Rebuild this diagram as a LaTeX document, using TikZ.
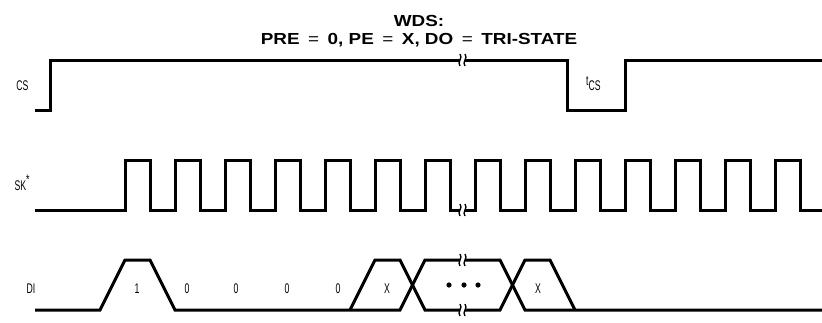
\documentclass[tikz,border=0pt]{standalone}
\usepackage{fontspec}
\usepackage{graphicx}
\newfontfamily\tfont{Liberation Sans}
\newcommand\lbl[1]{\scalebox{0.62}[1]{\fontsize{14}{14}\selectfont\tfont #1}}
\newcommand\ttl[1]{\scalebox{1.18}[1]{\fontsize{16}{18}\selectfont\tfont\bfseries #1}}
\newcommand\eqs{\hspace{0.45em}{\mdseries=}\hspace{0.45em}}
\newcommand\brkmark[2]{%
  \draw[brk] ({#1},{#2-6}) .. controls ({#1+3.5},{#2-2}) and ({#1-3.5},{#2+2}) .. ({#1},{#2+6});
  \draw[brk] ({#1+5},{#2-6}) .. controls ({#1+8.5},{#2-2}) and ({#1+1.5},{#2+2}) .. ({#1+5},{#2+6});}
\begin{document}
\begin{tikzpicture}[x=1pt,y=-1pt,
  sig/.style={line width=3pt,line join=miter},
  brk/.style={line width=1.3pt},
  lab/.style={anchor=base,inner sep=0pt}]
\useasboundingbox (0,0) rectangle (822,322);
% title
\node[lab] (t1) at (419,26) {\ttl{WDS:}};
\node[lab] (t2) at (419,44) {\ttl{PRE\eqs{}0, PE\eqs{}X, DO\eqs{}TRI-STATE}};
% signal labels
\node[lab] (cs) at (22.5,90) {\lbl{CS}};
\node[lab] (sk) at (22,190) {\lbl{SK\raisebox{6pt}{*}}};
\node[lab] (di) at (31,293) {\lbl{DI}};
\node[lab,anchor=base west] (tcs) at (586,85) {\lbl{t\raisebox{-5pt}{CS}}};
% CS
\draw[sig] (35,110) -- (50,110) -- (50,60) -- (460,60);
\draw[sig] (465,60) -- (567,60) -- (567,110) -- (625,110) -- (625,60) -- (822,60);
\brkmark{460}{60}
% SK
\draw[sig] (35,210) foreach \k in {0,...,6} { -- ({125+50*\k},210) -- ({125+50*\k},160) -- ({150+50*\k},160) -- ({150+50*\k},210) } -- (460,210);
\draw[sig] (465,210) foreach \k in {7,...,13} { -- ({125+50*\k},210) -- ({125+50*\k},160) -- ({150+50*\k},160) -- ({150+50*\k},210) } -- (822,210);
\brkmark{460}{210}
% DI
\draw[sig] (35,310) -- (100,310) -- (125,260) -- (150,260) -- (175,310) -- (400,310) -- (425,260) -- (460,260);
\draw[sig] (465,260) -- (500,260) -- (525,310) -- (822,310);
\draw[sig] (350,310) -- (375,260) -- (400,260) -- (425,310) -- (460,310);
\draw[sig] (465,310) -- (500,310) -- (525,260) -- (550,260) -- (575,310);
\brkmark{460}{260}
\brkmark{460}{310}
\foreach \x/\n in {449/d1,464/d2,478/d3} \fill (\x,285) circle (2.6) coordinate (\n);
% DI values
\node[lab] (v1) at (137,293) {\lbl{1}};
\node[lab] (v2) at (187,293) {\lbl{0}};
\node[lab] (v3) at (236,293) {\lbl{0}};
\node[lab] (v4) at (287,293) {\lbl{0}};
\node[lab] (v5) at (338,293) {\lbl{0}};
\node[lab] (v6) at (387,293) {\lbl{X}};
\node[lab] (v7) at (538,293) {\lbl{X}};
\end{tikzpicture}
\end{document}
